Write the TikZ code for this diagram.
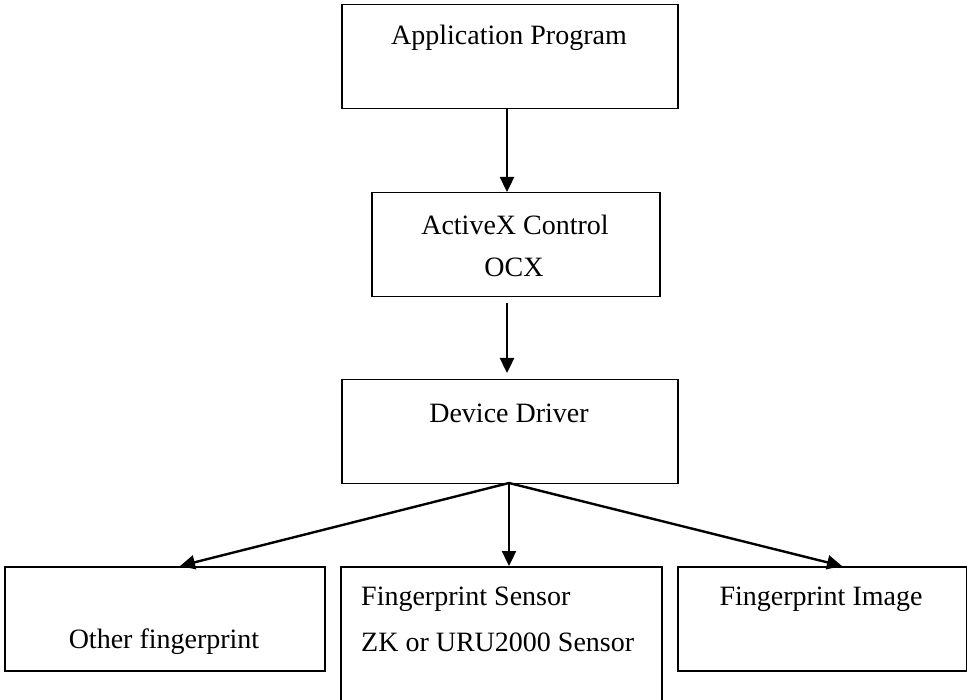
\documentclass[tikz,border=0pt]{standalone}
\usepackage{fontspec}
\setmainfont{Liberation Serif}
\usetikzlibrary{arrows.meta}
\begin{document}
\begin{tikzpicture}[x=1pt,y=-1pt,
  box/.style={draw,line width=1.5pt,anchor=north west,inner sep=0pt},
  txt/.style={font=\fontsize{28}{33}\selectfont,inner sep=0pt},
  arr/.style={line width=2.4pt,-{Triangle[length=15pt,width=14pt]}}]
\useasboundingbox (0,0) rectangle (967,700);
\clip (0,0) rectangle (967,700);
\node[box,minimum width=336pt,minimum height=104pt] (app) at (341,4) {};
\node[box,minimum width=288pt,minimum height=104pt] (ocx) at (371,192) {};
\node[box,minimum width=336pt,minimum height=104pt] (drv) at (341,379) {};
\node[box,minimum width=320pt,minimum height=104pt] (other) at (4,566) {};
\node[box,minimum width=321pt,minimum height=150pt] (sensor) at (340,566) {};
\node[box,minimum width=289pt,minimum height=104pt] (image) at (677,566) {};
\node[txt] (t1) at (509,38) {Application Program};
\node[txt] (t2) at (515,225) {ActiveX Control};
\node[txt] (t3) at (514,267) {OCX};
\node[txt] (t4) at (509,413) {Device Driver};
\node[txt] (t5) at (164,642) {Other fingerprint};
\node[txt,anchor=west] (t6) at (361,599) {Fingerprint Sensor};
\node[txt,anchor=west] (t7) at (361,642) {ZK or URU2000 Sensor};
\node[txt] (t8) at (821,599) {Fingerprint Image};
\coordinate (a1) at (507,303);
\coordinate (a2) at (507,373);
\coordinate (d) at (509,483);
\draw[arr] (app.south -| a1) -- (ocx.north -| a1);
\draw[arr] (a1) -- (a2);
\draw[arr] (d) -- (180,566);
\draw[arr] (d) -- (509,566);
\draw[arr] (d) -- (842,566);
\end{tikzpicture}
\end{document}
